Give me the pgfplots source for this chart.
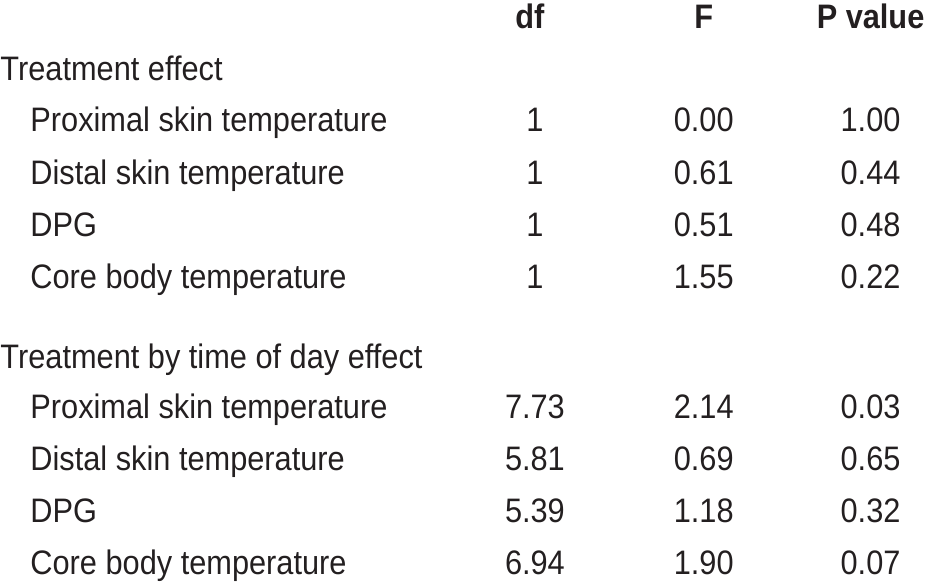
\documentclass[border=0pt]{standalone}
\usepackage{pgfplots}
\usepackage{pgfplotstable}
\usepackage{fontspec}
\setmainfont[FakeStretch=0.905]{Liberation Sans}
\pgfplotsset{compat=1.18}
\definecolor{ink}{HTML}{231F20}

\pgfplotstableread[col sep=comma]{
x,y,label
0,80,Treatment effect
0,368,Treatment by time of day effect
}\groups
\pgfplotstableread[col sep=comma]{
x,y,label
30,131,Proximal skin temperature
30,184,Distal skin temperature
30,236,DPG
30,288,Core body temperature
30,418,Proximal skin temperature
30,470,Distal skin temperature
30,522,DPG
30,574,Core body temperature
}\items
\pgfplotstableread[col sep=comma]{
x,y,label
535,131,1
535,184,1
535,236,1
535,288,1
535,418,7.73
535,470,5.81
535,522,5.39
535,574,6.94
704,131,0.00
704,184,0.61
704,236,0.51
704,288,1.55
704,418,2.14
704,470,0.69
704,522,1.18
704,574,1.90
871,131,1.00
871,184,0.44
871,236,0.48
871,288,0.22
871,418,0.03
871,470,0.65
871,522,0.32
871,574,0.07
}\values
\pgfplotstableread[col sep=comma]{
x,y,label
530,28,df
704,28,F
871,28,P value
}\header

\begin{document}
\begin{tikzpicture}
\begin{axis}[
  width=925bp, height=584bp, scale only axis,
  xmin=0, xmax=925, ymin=0, ymax=584, y dir=reverse,
  hide axis, clip=false,
  nodes near coords, point meta=explicit symbolic,
  every node near coord/.append style={inner sep=0pt, outer sep=0pt, font=\fontsize{34bp}{40bp}\selectfont, text=ink},
]
\addplot[draw=none, mark=none, nodes near coords={}] coordinates {(0,0) (925,584)};
\addplot[only marks, mark=none,
  every node near coord/.append style={anchor=base west}] table[x=x,y=y,meta=label] {\groups};
\addplot[only marks, mark=none,
  every node near coord/.append style={anchor=base west}] table[x=x,y=y,meta=label] {\items};
\addplot[only marks, mark=none,
  every node near coord/.append style={anchor=base}] table[x=x,y=y,meta=label] {\values};
\addplot[only marks, mark=none,
  every node near coord/.append style={anchor=base, font=\fontsize{34bp}{40bp}\selectfont\bfseries}] table[x=x,y=y,meta=label] {\header};
\end{axis}
\end{tikzpicture}
\end{document}
